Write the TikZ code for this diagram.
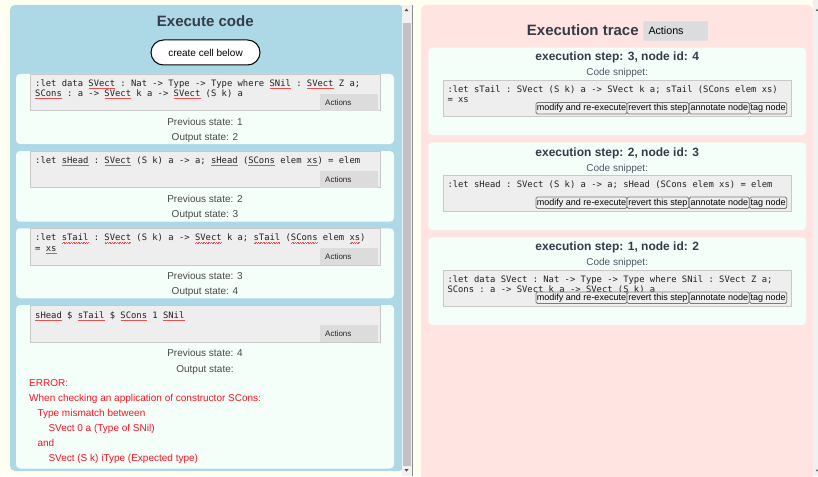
\documentclass[tikz,border=0pt]{standalone}
\usepackage{fontspec}
\setmainfont{Liberation Sans}
\setmonofont{DejaVu Sans Mono}

\definecolor{pagebg}{HTML}{FFFFF2}
\definecolor{leftbg}{HTML}{ADD8E6}
\definecolor{rightbg}{HTML}{FFE4E1}
\definecolor{mint}{HTML}{F5FFFA}
\definecolor{codegray}{HTML}{EEEEEE}
\definecolor{codeborder}{HTML}{C8C8C8}
\definecolor{actgray}{HTML}{DCDCDC}
\definecolor{btnfill}{HTML}{EFEFEF}
\definecolor{btnborder}{HTML}{7A7A7A}
\definecolor{titlecol}{HTML}{333C48}
\definecolor{statecol}{HTML}{484848}
\definecolor{snipcol}{HTML}{4E5864}
\definecolor{codetext}{HTML}{202020}
\definecolor{errred}{HTML}{FF1020}
\definecolor{sqred}{HTML}{E85050}
\definecolor{track}{HTML}{F1F1F1}
\definecolor{thumb}{HTML}{C1C1C1}

\newcommand\codefont{\ttfamily\fontsize{8.85pt}{10pt}\selectfont}
% red spell-check squiggle under a word
\newsavebox\sqbox
\newcommand\sq[1]{\sbox\sqbox{#1}\rlap{\raisebox{-2.3pt}{\textcolor{sqred}{\hbox to\wd\sqbox{\xleaders\hbox{\rule{0.8pt}{0.35pt}\raisebox{0.6pt}{\rule{0.8pt}{0.35pt}}}\hfill}}}}\usebox\sqbox}

\tikzset{
  card/.style={fill=mint, rounded corners=4pt},
  codebox/.style={fill=codegray, draw=codeborder, line width=0.8pt},
  actbtn/.style={fill=actgray},
  actlbl/.style={anchor=base west, inner sep=0pt, font=\fontsize{8pt}{9pt}\selectfont, text=black!85},
  code/.style={anchor=base west, inner sep=0pt, font=\codefont, text=codetext},
  state/.style={anchor=base, inner sep=0pt, font=\fontsize{10pt}{12pt}\selectfont, text=statecol},
  errtxt/.style={anchor=base west, inner sep=0pt, font=\fontsize{10pt}{12pt}\selectfont, text=errred},
  bigtitle/.style={anchor=base, inner sep=0pt, font=\bfseries\fontsize{15pt}{18pt}\selectfont, text=titlecol},
  stephead/.style={anchor=base, inner sep=0pt, font=\bfseries\fontsize{12pt}{14pt}\selectfont, text=titlecol},
  snippet/.style={anchor=base, inner sep=0pt, font=\fontsize{10pt}{12pt}\selectfont, text=snipcol},
  tbtn/.style={draw=btnborder, fill=btnfill, rounded corners=1.5pt, line width=0.8pt,
    inner sep=0pt, minimum height=11.5pt, text height=6.6pt, text depth=1.9pt,
    font=\fontsize{9pt}{10pt}\selectfont, text=black},
  pill/.style={draw=black, fill=white, line width=1pt, rounded corners=12.5pt,
    minimum width=109pt, minimum height=25pt, inner sep=0pt,
    font=\fontsize{10pt}{12pt}\selectfont, text=black},
}

% row of step buttons; #1 = top edge, #2 = name prefix
\newcommand\btnrow[2]{%
  \node[tbtn, minimum width=91pt]   (#2mod) at (581.5,#1+5.75) {modify and re-execute};
  \node[tbtn, minimum width=61.7pt] (#2rev) at (657.85,#1+5.75) {revert this step};
  \node[tbtn, minimum width=60pt]   (#2ann) at (719.3,#1+5.75) {annotate node};
  \node[tbtn, minimum width=37pt]   (#2tag) at (768.2,#1+5.75) {tag node};
}

\begin{document}
\begin{tikzpicture}[x=1pt, y=-1pt]
\useasboundingbox (0,0) rectangle (818,476);
\clip (0,0) rectangle (818,476);
\fill[pagebg] (0,0) rectangle (818,476);

% ---------- left panel: code cells ----------
\fill[leftbg, rounded corners=5pt] (10,5) rectangle (404,471);
\node[bigtitle] (ltitle) at (205.3,26.1) {Execute code};
\node[pill] (create) at (205.5,52.5) {create cell below};

% cell 1
\fill[card] (16,74) rectangle (394,144);
\draw[codebox] (30,74) rectangle (380,110.7);
\fill[actbtn] (320,94) rectangle (378,110.7);
\node[actlbl] (act1) at (325,105.2) {Actions};
\node[code] (c1a) at (35,86.2) {:let data \sq{SVect} : Nat -> Type -> Type where \sq{SNil} : \sq{SVect} Z a;};
\node[code] (c1b) at (35,96.2) {\sq{SCons} : a -> \sq{SVect} k a -> \sq{SVect} (S k) a};
\node[state] (p1) at (205,125.6) {Previous state: 1};
\node[state] (o1) at (205,140.6) {Output state: 2};

% cell 2
\fill[card] (16,151) rectangle (394,221.7);
\draw[codebox] (30,151) rectangle (380,187.7);
\fill[actbtn] (320,171) rectangle (378,187.7);
\node[actlbl] (act2) at (325,182.2) {Actions};
\node[code] (c2a) at (35,163.2) {:let \sq{sHead} : \sq{SVect} (S k) a -> a; \sq{sHead} (\sq{SCons} elem \sq{xs}) = elem};
\node[state] (p2) at (205,202.6) {Previous state: 2};
\node[state] (o2) at (205,217.6) {Output state: 3};

% cell 3
\fill[card] (16,228.3) rectangle (394,298.3);
\draw[codebox] (30,228.3) rectangle (380,265);
\fill[actbtn] (320,248.3) rectangle (378,265);
\node[actlbl] (act3) at (325,259.5) {Actions};
\node[code] (c3a) at (35,240.7) {:let \sq{sTail} : \sq{SVect} (S k) a -> \sq{SVect} k a; \sq{sTail} (\sq{SCons} elem \sq{xs})};
\node[code] (c3b) at (35,251.2) {= \sq{xs}};
\node[state] (p3) at (205,279.6) {Previous state: 3};
\node[state] (o3) at (205,294.3) {Output state: 4};

% cell 4 (with error)
\fill[card] (16,305) rectangle (394,468.5);
\draw[codebox] (30,305) rectangle (380,342);
\fill[actbtn] (320,325) rectangle (378,342);
\node[actlbl] (act4) at (325,336.3) {Actions};
\node[code] (c4a) at (35,318.2) {\sq{sHead} \$ \sq{sTail} \$ \sq{SCons} 1 \sq{SNil}};
\node[state] (p4) at (205,356.9) {Previous state: 4};
\node[state] (o4) at (205,372.3) {Output state:};
\node[errtxt] (e1) at (29,386.9) {ERROR:};
\node[errtxt] (e2) at (29,401.8) {When checking an application of constructor SCons:};
\node[errtxt] (e3) at (37.3,416.7) {Type mismatch between};
\node[errtxt] (e4) at (48.3,431.6) {SVect 0 a (Type of SNil)};
\node[errtxt] (e5) at (37.3,446.5) {and};
\node[errtxt] (e6) at (48.3,461.4) {SVect (S k) iType (Expected type)};

% left scrollbar
\fill[track] (401.7,5) rectangle (411.7,476);
\fill[thumb] (402.7,23.3) rectangle (410.5,465.5);
\draw[black!45, line width=0.9pt] (412.2,5) -- (412.2,476);
\fill[black!70] (404.4,11.2) -- (408.6,11.2) -- (406.5,8.6) -- cycle;
\fill[black!70] (404.4,469) -- (408.6,469) -- (406.5,471.6) -- cycle;

% ---------- right panel: execution trace ----------
\fill[rightbg, rounded corners=5pt] (421,5) rectangle (813,490);
\node[bigtitle] (rtitle) at (582.8,35.4) {Execution trace};
\fill[actgray] (643.7,21.3) rectangle (707.7,40.7);
\draw[black!12, line width=0.8pt] (643.7,21.3) rectangle (707.7,40.7);
\node[anchor=base west, inner sep=0pt, font=\fontsize{10.7pt}{12pt}\selectfont, text=black] (ractions) at (648.3,34.8) {Actions};

% step 3
\fill[card] (428.3,47.7) rectangle (806,135);
\node[stephead] (h3) at (617.2,61) {execution step: 3, node id: 4};
\node[snippet] (s3) at (617.2,75.9) {Code snippet:};
\draw[codebox] (443.3,80) rectangle (791.7,116.7);
\node[code] (r3a) at (447.3,92.5) {:let sTail : SVect (S k) a -> SVect k a; sTail (SCons elem xs)};
\node[code] (r3b) at (447.3,102.5) {= xs};
\btnrow{102.5}{bA}

% step 2
\fill[card] (428.3,142.3) rectangle (806,230);
\node[stephead] (h2) at (617.2,156) {execution step: 2, node id: 3};
\node[snippet] (s2) at (617.2,171.3) {Code snippet:};
\draw[codebox] (443.3,175) rectangle (791.7,211.7);
\node[code] (r2a) at (447.3,187.2) {:let sHead : SVect (S k) a -> a; sHead (SCons elem xs) = elem};
\btnrow{197}{bB}

% step 1
\fill[card] (428.3,237.3) rectangle (806,325);
\node[stephead] (h1) at (617.2,250.3) {execution step: 1, node id: 2};
\node[snippet] (s1) at (617.2,265.6) {Code snippet:};
\draw[codebox] (443.3,270) rectangle (791.7,306.5);
\node[code] (r1a) at (447.3,282.2) {:let data SVect : Nat -> Type -> Type where SNil : SVect Z a;};
\node[code] (r1b) at (447.3,292.2) {SCons : a -> SVect k a -> SVect (S k) a};
\btnrow{292}{bC}

% right scrollbar
\fill[track] (813,0) rectangle (818,476);
\fill[black!60] (815.6,11) -- (818.4,11) -- (817,8.8) -- cycle;
\fill[black!60] (815.6,469.5) -- (818.4,469.5) -- (817,471.7) -- cycle;
\end{tikzpicture}
\end{document}
